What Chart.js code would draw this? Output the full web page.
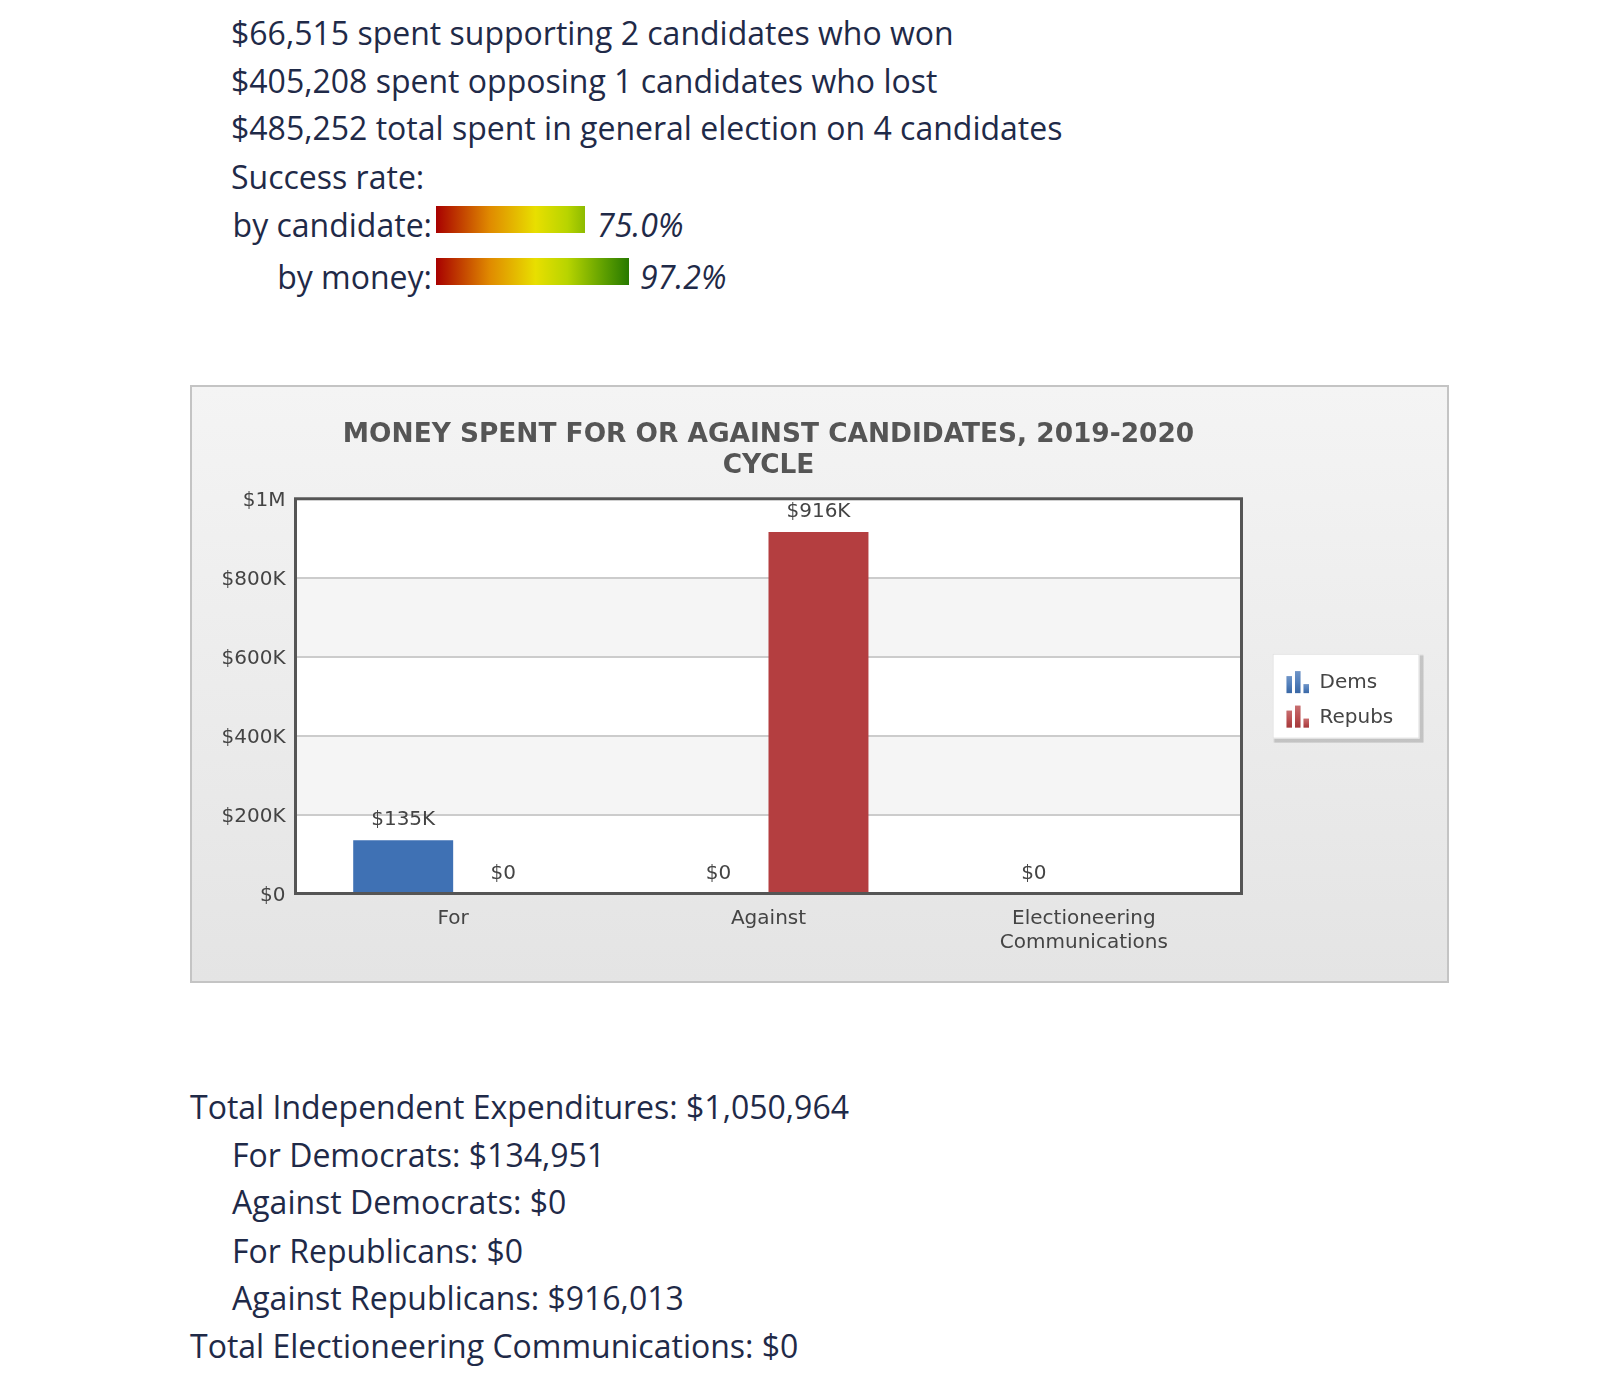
<!DOCTYPE html>
<html>
<head>
<meta charset="utf-8">
<script src="https://cdn.jsdelivr.net/npm/chart.js@4.4.1/dist/chart.umd.min.js"></script>
<style>
  body { margin: 0; width: 1610px; height: 1376px; background: #fff; position: relative;
         font-family: "Open Sans", sans-serif; color: #1f2a48; overflow: hidden; }
  .ln { position: absolute; font-size: 32px; line-height: 48px; height: 48px; white-space: nowrap; }
  .lbl { text-align: right; width: 200px; }
  .pct { font-style: italic; }
  .rate { position: absolute; height: 27px; background-image: linear-gradient(to right, #a80000 0%, #e08a00 27%, #e8df00 50%, #b8d400 66%, #5c9e00 85%, #1a7000 100%); background-size: 199px 100%; }
  #box { position: absolute; left: 190px; top: 385px; width: 1259px; height: 598px; box-sizing: border-box;
         border: 2px solid #c4c4c4; background: linear-gradient(to bottom, #f4f4f4, #e4e4e4); }
  #wrap { position: absolute; left: 0; top: 0; width: 1255px; height: 594px; }
</style>
</head>
<body>
<div class="ln" style="left:231px; top:9px;">$66,515 spent supporting 2 candidates who won</div>
<div class="ln" style="left:231px; top:57px;">$405,208 spent opposing 1 candidates who lost</div>
<div class="ln" style="left:231px; top:104px;">$485,252 total spent in general election on 4 candidates</div>
<div class="ln" style="left:231px; top:153px;">Success rate:</div>
<div class="ln lbl" style="left:232px; top:201px;">by candidate:</div>
<div class="rate" style="left:436px; top:206px; width:149px;"></div>
<div class="ln pct" style="left:597px; top:201px;">75.0%</div>
<div class="ln lbl" style="left:232px; top:253px;">by money:</div>
<div class="rate" style="left:436px; top:258px; width:193px;"></div>
<div class="ln pct" style="left:640px; top:253px;">97.2%</div>

<div id="box"><div id="wrap"><canvas id="myChart"></canvas></div></div>

<div class="ln" style="left:190px; top:1083px;">Total Independent Expenditures: $1,050,964</div>
<div class="ln" style="left:232px; top:1131px;">For Democrats: $134,951</div>
<div class="ln" style="left:232px; top:1178px;">Against Democrats: $0</div>
<div class="ln" style="left:232px; top:1227px;">For Republicans: $0</div>
<div class="ln" style="left:232px; top:1274px;">Against Republicans: $916,013</div>
<div class="ln" style="left:190px; top:1322px;">Total Electioneering Communications: $0</div>

<script>
const categories = ['For', 'Against', ['Electioneering', 'Communications']];
const demsValues = [134951, 0, 0];
const repubsValues = [0, 916013, null];
const seriesNames = ['Dems', 'Repubs'];
const seriesColors = ['#3f71b4', '#b43e40'];
const yTickLabels = ['$0', '$200K', '$400K', '$600K', '$800K', '$1M'];

const chartFont = 'DejaVu Sans';

function money(v) {
  if (v === 0) return '$0';
  if (v >= 1000000) return '$' + Math.round(v / 100000) / 10 + 'M';
  return '$' + Math.round(v / 1000) + 'K';
}

// alternating bands behind the grid
const bands = {
  id: 'bands',
  beforeDraw(chart) {
    const { ctx, chartArea: a, scales: { y } } = chart;
    ctx.save();
    ctx.fillStyle = '#ffffff';
    ctx.fillRect(a.left, a.top, a.width, a.height);
    const ticks = y.ticks;
    for (let i = 0; i < ticks.length - 1; i++) {
      if ((ticks.length - 2 - i) % 2 === 1) {
        const y0 = y.getPixelForValue(ticks[i].value);
        const y1 = y.getPixelForValue(ticks[i + 1].value);
        ctx.fillStyle = '#f5f5f5';
        ctx.fillRect(a.left, y1, a.width, y0 - y1);
      }
    }
    ctx.restore();
  }
};

const frameAndLabels = {
  id: 'frameAndLabels',
  afterDatasetsDraw(chart) {
    const { ctx, chartArea: a } = chart;
    ctx.save();
    ctx.strokeStyle = '#555555';
    ctx.lineWidth = 3;
    ctx.strokeRect(a.left, a.top, a.width, a.height);

    ctx.font = '20px "' + chartFont + '"';
    ctx.fillStyle = '#444444';
    ctx.textAlign = 'center';
    ctx.textBaseline = 'middle';
    chart.data.datasets.forEach((ds, di) => {
      const meta = chart.getDatasetMeta(di);
      meta.data.forEach((el, i) => {
        const v = ds.data[i];
        if (v === null || v === undefined) return;
        ctx.fillText(money(v), el.x, el.y - 20);
      });
    });
    ctx.restore();
  }
};

function drawIcon(ctx, x, bottom, color) {
  const hs = [17, 22, 9];
  hs.forEach((h, k) => {
    const bx = x + k * 8.5;
    ctx.fillStyle = color;
    ctx.fillRect(bx, bottom - h, 5.5, h);
    const g = ctx.createLinearGradient(0, bottom - h, 0, bottom);
    g.addColorStop(0, 'rgba(255,255,255,0.25)');
    g.addColorStop(0.5, 'rgba(255,255,255,0.1)');
    g.addColorStop(1, 'rgba(0,0,0,0.08)');
    ctx.fillStyle = g;
    ctx.fillRect(bx, bottom - h, 5.5, h);
  });
}

const sideLegend = {
  id: 'sideLegend',
  afterDraw(chart) {
    const { ctx, chartArea: a } = chart;
    const left = a.right + 31;
    const w = 147, h = 85;
    const top = (a.top + a.bottom) / 2 - h / 2;
    ctx.save();
    ctx.fillStyle = 'rgba(0,0,0,0.10)';
    ctx.fillRect(left + 2, top + 2, w + 2, h + 2);
    ctx.fillStyle = 'rgba(0,0,0,0.08)';
    ctx.fillRect(left + 1, top + 1, w + 3, h + 3);
    ctx.fillStyle = '#ffffff';
    ctx.fillRect(left, top, w, h);
    ctx.strokeStyle = '#dddddd';
    ctx.lineWidth = 1;
    ctx.strokeRect(left + 0.5, top + 0.5, w - 1, h - 1);
    ctx.font = '20px "' + chartFont + '"';
    ctx.textBaseline = 'middle';
    ctx.textAlign = 'left';
    chart.data.datasets.forEach((ds, i) => {
      const cy = top + 29.5 + i * 34.5;
      drawIcon(ctx, left + 14, cy + 10, ds.backgroundColor);
      ctx.fillStyle = '#444444';
      ctx.fillText(ds.label, left + 47, cy);
    });
    ctx.restore();
  }
};

const ctx = document.getElementById('myChart');

new Chart(ctx, {
  type: 'bar',
  data: {
    labels: categories,
    datasets: [
      { label: seriesNames[0], data: demsValues, backgroundColor: seriesColors[0] },
      { label: seriesNames[1], data: repubsValues, backgroundColor: seriesColors[1] },
    ],
  },
  options: {
    responsive: true,
    maintainAspectRatio: false,
    animation: false,
    categoryPercentage: 0.634,
    barPercentage: 1,
    layout: { padding: { left: 0, right: 205.5, top: 0, bottom: 0 } },
    plugins: {
      legend: { display: false },
      tooltip: { enabled: false },
      title: {
        display: true,
        fullSize: false,
        text: ['MONEY SPENT FOR OR AGAINST CANDIDATES, 2019-2020', 'CYCLE'],
        color: '#555555',
        font: { family: chartFont, size: 26.4, weight: 'bold', lineHeight: 1.17 },
        padding: { top: 33, bottom: 17 },
      },
    },
    scales: {
      x: {
        grid: { display: false, drawTicks: false },
        border: { display: false },
        ticks: { color: '#444444', padding: 13, font: { family: chartFont, size: 20, lineHeight: 1.2 } },
        afterFit(scale) { scale.height = 87.5; },
      },
      y: {
        min: 0,
        max: 1000000,
        grid: { color: '#cccccc', lineWidth: 2, drawTicks: false },
        border: { display: false },
        ticks: {
          stepSize: 200000,
          color: '#444444',
          padding: 10,
          labelOffset: 2,
          font: { family: chartFont, size: 20 },
          callback: (v, i) => yTickLabels[i],
        },
        afterFit(scale) { scale.width = 103.5; },
      },
    },
  },
  plugins: [bands, frameAndLabels, sideLegend],
});
</script>
</body>
</html>
